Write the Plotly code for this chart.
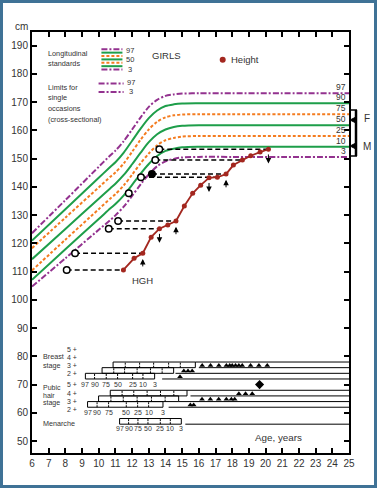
import plotly.graph_objects as go

# ---------------- data ----------------
centile_ages = [6, 8, 10, 10.7, 11, 11.5, 12, 12.5, 13, 13.5, 14, 14.5, 15, 16, 18, 21, 25]
c97 = [123.6, 135.3, 147.1, 151.2, 152.8, 156.2, 160.3, 164.5, 168.3, 170.8, 172.2, 172.7, 173.0, 173.1, 173.1, 173.1, 173.1]
c90 = [121.0, 132.1, 143.2, 147.1, 148.7, 152.1, 156.3, 160.5, 164.3, 167.0, 168.6, 169.2, 169.5, 169.6, 169.6, 169.6, 169.6]
c75 = [118.3, 129.1, 139.8, 143.6, 145.1, 148.3, 152.4, 156.6, 160.3, 163.0, 164.6, 165.3, 165.6, 165.7, 165.7, 165.7, 165.7]
c50 = [114.4, 125.1, 135.8, 139.5, 141.1, 144.2, 148.0, 152.0, 155.8, 158.6, 160.3, 161.2, 161.6, 161.8, 161.8, 161.8, 161.8]
c25 = [110.4, 121.3, 132.1, 135.9, 137.4, 140.5, 144.3, 148.3, 151.8, 154.7, 156.5, 157.3, 157.8, 158.0, 158.0, 158.0, 158.0]
c10 = [107.1, 117.9, 128.6, 132.4, 133.9, 137.0, 140.7, 144.6, 148.1, 150.9, 152.7, 153.5, 154.0, 154.2, 154.2, 154.2, 154.2]
c3 = [104.7, 114.7, 124.8, 128.3, 129.9, 133.0, 136.8, 140.8, 144.4, 147.3, 149.0, 149.9, 150.4, 150.6, 150.6, 150.6, 150.6]
centile_names = ["97", "90", "75", "50", "25", "10", "3"]

height_age = [11.48, 12.12, 12.64, 13.14, 13.64, 14.14, 14.63, 15.13, 15.63, 16.11,
              16.61, 17.11, 17.63, 18.07, 18.61, 19.11, 19.67, 20.17]
height_cm = [110.6, 114.7, 116.5, 122.2, 125.2, 126.5, 127.9, 133.2, 137.7, 140.6,
             143.2, 143.4, 144.5, 147.7, 149.5, 151.0, 152.3, 153.3]

# bone-age points (age) linked to a height measurement (index)
bone_age = [8.08, 8.58, 10.6, 11.16, 11.8, 12.53, 13.19, 13.39, 13.63]
bone_link = [0, 2, 4, 6, 8, 11, 12, 14, 17]
bone_filled = [False, False, False, False, False, False, True, False, False]
bone_dashed = [True, True, True, True, False, True, True, True, True]

# arrows: (measurement index, direction)
arrow_idx = [2, 4, 6, 10, 12, 17]
arrow_dir = ["up", "down", "up", "down", "up", "down"]

# maturity standards: ages at 97, 90, 75, 50, 25, 10, 3 centiles
breast_boxes = [
    [10.86, 11.59, 12.45, 13.29, 14.19, 14.89, 15.79],
    [10.20, 10.90, 11.55, 12.30, 13.10, 13.80, 14.49],
    [9.20, 9.75, 10.45, 11.13, 12.03, 12.65, 13.35],
]
pubic_boxes = [
    [10.69, 11.40, 12.10, 12.90, 13.70, 14.50, 15.29],
    [9.99, 10.73, 11.47, 12.30, 13.16, 13.98, 14.79],
    [9.33, 9.90, 10.59, 11.65, 12.33, 12.99, 13.85],
]
menarche_box = [11.25, 11.79, 12.35, 12.95, 13.69, 14.29, 14.95]
box_centile_labels = ["97", "90", "75", "50", "25", "10", "3"]

breast_obs_4 = [16.2, 16.7, 17.2, 17.65, 17.85, 18.0, 18.2, 18.4, 18.6, 19.1, 19.6, 20.1]
breast_obs_3 = [15.1, 15.35, 15.6]
breast_obs_2 = [14.87]
pubic_obs_5 = [19.64]
pubic_obs_4 = [18.4, 18.8, 19.2]
pubic_obs_3 = [16.19, 16.69, 17.19, 17.65, 17.95, 18.15]
pubic_obs_2 = [15.49, 15.69]

# ---------------- style ----------------
PURPLE = "#93328f"
GREEN = "#1e9e4a"
ORANGE = "#f47c20"
RED = "#a3271f"
TXT = "#333333"
FONT = "Liberation Sans, Arial, sans-serif"
DASHDOT = "6px,2px,2px,2px"
DOT = "3px,2px"

X0, X1 = 6, 25
Y0, Y1 = 45.8, 194.8

fig = go.Figure()

curve_style = [(c97, PURPLE, DASHDOT), (c90, GREEN, "solid"), (c75, ORANGE, DOT),
               (c50, GREEN, "solid"), (c25, ORANGE, DOT), (c10, GREEN, "solid"),
               (c3, PURPLE, DASHDOT)]
for vals, col, dash in curve_style:
    fig.add_trace(go.Scatter(x=centile_ages, y=vals, mode="lines",
                             line=dict(color=col, width=2, dash=dash, shape="spline", smoothing=0.8),
                             hoverinfo="skip", showlegend=False))

annotations = []
for vals, name in zip([c97, c90, c75, c50, c25, c10, c3], centile_names):
    annotations.append(dict(x=24.95, y=vals[-1], text=name, showarrow=False, xanchor="right",
                            yanchor="bottom", yshift=-1, font=dict(size=8.5, color=TXT, family=FONT)))

# dashed connectors
dx, dy = [], []
for b, li, d in zip(bone_age, bone_link, bone_dashed):
    if d:
        dx += [b, height_age[li], None]
        dy += [height_cm[li], height_cm[li], None]
fig.add_trace(go.Scatter(x=dx, y=dy, mode="lines", line=dict(color="black", width=1.5, dash="5px,3px"),
                         hoverinfo="skip", showlegend=False))

# height series
fig.add_trace(go.Scatter(x=height_age, y=height_cm, mode="lines+markers",
                         line=dict(color=RED, width=1.8), marker=dict(color=RED, size=5),
                         hoverinfo="skip", showlegend=False))

# bone age circles
fig.add_trace(go.Scatter(x=bone_age, y=[height_cm[i] for i in bone_link], mode="markers",
                         marker=dict(size=6.5, color=["black" if f else "white" for f in bone_filled],
                                     line=dict(color="black", width=1.5)),
                         hoverinfo="skip", showlegend=False))

for i, d in zip(arrow_idx, arrow_dir):
    a, h = height_age[i], height_cm[i]
    if d == "up":
        tail, head = h - 5.2, h - 2.0
    else:
        tail, head = h - 1.3, h - 5.0
    annotations.append(dict(x=a, y=head, ax=a, ay=tail, axref="x", ayref="y", xref="x", yref="y",
                            text="", showarrow=True, arrowhead=2, arrowsize=1.1, arrowwidth=1,
                            arrowcolor="black"))

shapes = []

def box_rows(boxes, top):
    for k, b in enumerate(boxes):
        yt = top - 2 * k
        yb = yt - 2
        shapes.append(dict(type="rect", x0=b[0], x1=b[-1], y0=yb, y1=yt, xref="x", yref="y",
                           line=dict(color="black", width=1)))
        for v in b[1:-1]:
            shapes.append(dict(type="line", x0=v, x1=v, y0=yb, y1=yt, xref="x", yref="y",
                               line=dict(color="black", width=1, dash="2px,1px")))

box_rows(breast_boxes, 78)
box_rows(pubic_boxes, 68)
box_rows([menarche_box], 58)

def hline(xs, y):
    shapes.append(dict(type="line", x0=xs, x1=X1, y0=y, y1=y, xref="x", yref="y",
                       line=dict(color="black", width=1)))

hline(breast_boxes[0][-1], 78)
hline(16.0, 76)
hline(14.6, 74)
hline(13.8, 72)
hline(pubic_boxes[0][-1], 68)
hline(15.5, 66)
hline(pubic_boxes[1][-1], 64)
hline(14.19, 62)
hline(15.19, 56)

tri_x, tri_y = [], []
for obs, y in [(breast_obs_4, 76), (breast_obs_3, 74), (breast_obs_2, 72),
               (pubic_obs_4, 66), (pubic_obs_3, 64), (pubic_obs_2, 62)]:
    tri_x += obs
    tri_y += [y + 0.8] * len(obs)
fig.add_trace(go.Scatter(x=tri_x, y=tri_y, mode="markers",
                         marker=dict(symbol="triangle-up", size=5, color="black"),
                         hoverinfo="skip", showlegend=False))
fig.add_trace(go.Scatter(x=pubic_obs_5, y=[70.0], mode="markers",
                         marker=dict(symbol="diamond", size=7, color="black"),
                         hoverinfo="skip", showlegend=False))

for b, y in [(breast_boxes[2], 70.0), (pubic_boxes[2], 60.2), (menarche_box, 54.3)]:
    for v, lab in zip(b, box_centile_labels):
        annotations.append(dict(x=v, y=y, text=lab, showarrow=False, yanchor="middle",
                                font=dict(size=7, color=TXT, family=FONT)))

def txt(x, y, s, size=10, anchor="left", **kw):
    d = dict(x=x, y=y, text=s, showarrow=False, xanchor=anchor, yanchor="middle",
             font=dict(size=size, color=TXT, family=FONT))
    d.update(kw)
    annotations.append(d)

for s, y in [("5 +", 82.3), ("4 +", 79.6), ("3 +", 76.8), ("2 +", 73.9),
             ("5 +", 70.0), ("4 +", 67.0), ("3 +", 64.1), ("2 +", 61.2)]:
    txt(8.4, y, s, size=7, anchor="center")
txt(6.55, 79.8, "Breast", 7.2)
txt(6.55, 76.9, "stage", 7.2)
txt(6.55, 69.0, "Pubic", 7)
txt(6.55, 66.3, "hair", 7)
txt(6.55, 63.5, "stage", 7)
txt(6.55, 56.1, "Menarche", 7.2)
txt(20.78, 51.3, "Age, years", 9.8, anchor="center")
txt(12.6, 107.0, "HGH", 9.5, anchor="center")

# legend block
leg_y = [188.7, 187.5, 186.3, 185.1, 183.9, 182.7, 181.5]
for y, (vals, col, dash) in zip(leg_y, curve_style):
    shapes.append(dict(type="line", x0=10.16, x1=11.42, y0=y, y1=y, xref="x", yref="y",
                       line=dict(color=col, width=2, dash=dash)))
txt(11.5, 188.4, "97", 7.5)
txt(11.5, 184.9, "50", 7.5)
txt(11.62, 181.4, "3", 7.5)
for y in [176.6, 173.6]:
    shapes.append(dict(type="line", x0=9.99, x1=11.49, y0=y, y1=y, xref="x", yref="y",
                       line=dict(color=PURPLE, width=2, dash=DASHDOT)))
txt(11.58, 176.9, "97", 7.5)
txt(11.7, 173.8, "3", 7.5)
txt(6.85, 187.2, "Longitudinal", 7.3)
txt(6.85, 183.5, "standards", 7.3)
txt(6.85, 175.2, "Limits for", 7.3)
txt(6.85, 171.5, "single", 7.3)
txt(6.85, 167.8, "occasions", 7.3)
txt(6.85, 164.0, "(cross-sectional)", 7.3)
txt(14.05, 186.6, "GIRLS", 9.5, anchor="center")
fig.add_trace(go.Scatter(x=[17.43], y=[185.0], mode="markers", marker=dict(color=RED, size=6),
                         hoverinfo="skip", showlegend=False))
txt(17.8, 185.0, "Height", 9.5)

def py2p(py):
    return (453 - py) / 421.0

def px2p(px):
    return (px - 32) / 317.0

def ptxt(px, py, s, size):
    annotations.append(dict(x=px2p(px), y=py2p(py), xref="paper", yref="paper", text=s,
                            xanchor="center", yanchor="middle", showarrow=False,
                            font=dict(size=size, color=TXT, family=FONT)))

ptxt(21, 27, "cm", 10)
ptxt(367, 118, "F", 10)
ptxt(367, 146, "M", 10)
shapes.append(dict(type="line", xref="paper", yref="paper", x0=px2p(356), x1=px2p(356),
                   y0=py2p(110), y1=py2p(156), line=dict(color="black", width=2.5)))
for py in [110, 156]:
    shapes.append(dict(type="line", xref="paper", yref="paper", x0=px2p(350), x1=px2p(357),
                       y0=py2p(py), y1=py2p(py), line=dict(color="black", width=1.5)))
for py in [120, 146]:
    shapes.append(dict(type="path", xref="paper", yref="paper",
                       path=f"M {px2p(350)} {py2p(py)} L {px2p(356)} {py2p(py-3)} L {px2p(356)} {py2p(py+3)} Z",
                       fillcolor="black", line=dict(color="black", width=1)))
shapes.append(dict(type="rect", xref="paper", yref="paper", x0=px2p(1.5), x1=px2p(375.5),
                   y0=py2p(486.5), y1=py2p(1.5), line=dict(color="#3f7296", width=3)))

fig.update_layout(
    width=377, height=488,
    margin=dict(l=32, r=28, t=32, b=35),
    paper_bgcolor="white", plot_bgcolor="white",
    showlegend=False,
    font=dict(family=FONT, color=TXT),
    shapes=shapes, annotations=annotations,
    xaxis=dict(range=[X0, X1], tickmode="array", tickvals=list(range(6, 26)),
               ticktext=[str(v) for v in range(6, 26)], automargin=False,
               showline=True, linecolor="black", linewidth=2, mirror="ticks",
               ticks="inside", ticklen=5, tickwidth=1.5, tickcolor="black",
               showgrid=False, zeroline=False, tickfont=dict(size=10, color=TXT, family=FONT)),
    yaxis=dict(range=[Y0, Y1], tickmode="array", tickvals=list(range(50, 191, 10)), automargin=False,
               showline=True, linecolor="black", linewidth=2, mirror="ticks",
               ticks="inside", ticklen=5, tickwidth=1.5, tickcolor="black",
               showgrid=False, zeroline=False, tickfont=dict(size=10, color=TXT, family=FONT)),
)

fig.write_html("out.html", config={"displayModeBar": False},
               post_script="document.body.style.margin='0';document.body.style.overflow='hidden';")
